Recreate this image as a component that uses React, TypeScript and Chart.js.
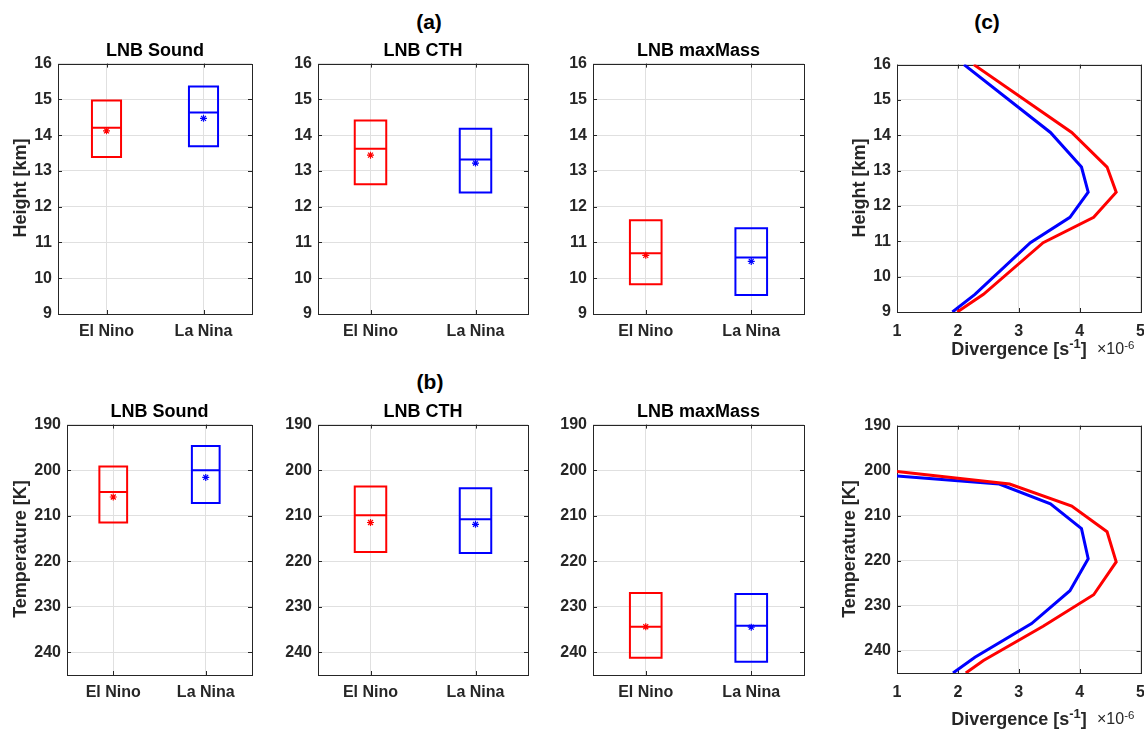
import React, { useEffect, useRef } from 'react';
import { Chart, registerables } from 'chart.js';

Chart.register(...registerables);

// ---------------- data ----------------
const categories = ['El Nino', 'La Nina'];
const categoryPositions = [1, 2];
const methodTitles = ['LNB Sound', 'LNB CTH', 'LNB maxMass'];
const heightTicks = [9, 10, 11, 12, 13, 14, 15, 16];
const temperatureTicks = [190, 200, 210, 220, 230, 240];
const divergenceTicks = [1, 2, 3, 4, 5];

// Height [km] box statistics, per method: [El Nino, La Nina]
const heightLower = [[13.39, 13.69], [12.63, 12.40], [9.83, 9.53]];
const heightMedian = [[14.21, 14.63], [13.62, 13.32], [10.70, 10.58]];
const heightUpper = [[14.97, 15.36], [14.41, 14.18], [11.62, 11.40]];
const heightMean = [[14.12, 14.47], [13.44, 13.22], [10.64, 10.47]];

// Temperature [K] box statistics, per method: [El Nino, La Nina]
const tempLower = [[199.2, 194.7], [203.6, 204.0], [227.0, 227.2]];
const tempMedian = [[204.8, 200.0], [209.9, 210.8], [234.4, 234.2]];
const tempUpper = [[211.5, 207.2], [218.0, 218.2], [241.2, 242.1]];
const tempMean = [[205.9, 201.6], [211.5, 211.9], [234.4, 234.5]];

// Divergence profiles (x 1e-6 s^-1)
const profileHeights = [16, 14.08, 13.1, 12.39, 11.68, 10.96, 9.5, 9];
const divElNinoByHeight = [2.26, 3.87, 4.45, 4.6, 4.23, 3.4, 2.42, 1.99];
const divLaNinaByHeight = [2.1, 3.52, 4.03, 4.14, 3.84, 3.19, 2.28, 1.91];

const profileTempsElNino = [200.2, 203.0, 207.9, 213.6, 220.3, 227.6, 234.6, 242.2, 245];
const divElNinoByTemp = [1.0, 2.85, 3.87, 4.45, 4.6, 4.23, 3.4, 2.42, 2.13];
const profileTempsLaNina = [201.2, 203.0, 207.4, 212.9, 219.6, 226.7, 234.0, 241.5, 245];
const divLaNinaByTemp = [1.0, 2.68, 3.52, 4.03, 4.14, 3.84, 3.21, 2.28, 1.92];

const seriesColors = ['#ff0000', '#0000ff'];

// ---------------- styling / layout ----------------
const FONT = "'Liberation Sans', Arial, Helvetica, sans-serif";
const AXIS_COLOR = '#262626';
const GRID_COLOR = '#e0e0e0';
const BOX_HALF = 0.15;
const PAD_L = 50, PAD_T = 14, PAD_R = 14, PAD_B = 36;

type Box = { l: number; t: number; r: number; b: number };

const topBoxes: Box[] = [
  { l: 58, t: 62, r: 252, b: 314 },
  { l: 318, t: 62, r: 528, b: 314 },
  { l: 593, t: 62, r: 804, b: 314 },
];
const topProfileBox: Box = { l: 897, t: 63, r: 1141, b: 312 };
const bottomBoxes: Box[] = [
  { l: 67, t: 423, r: 252, b: 675 },
  { l: 318, t: 423, r: 528, b: 675 },
  { l: 593, t: 423, r: 804, b: 675 },
];
const bottomProfileBox: Box = { l: 897, t: 424, r: 1141, b: 673 };

const matlabAxes = {
  id: 'matlabAxes',
  beforeDatasetsDraw(chart: any) {
    const { ctx, chartArea, scales } = chart;
    const { left, top, right, bottom } = chartArea;
    const tl = 4;
    ctx.save();
    ctx.strokeStyle = AXIS_COLOR;
    ctx.lineWidth = 1;
    ctx.beginPath();
    scales.x.ticks.forEach((t: any) => {
      const px = Math.round(scales.x.getPixelForValue(t.value)) + 0.5;
      ctx.moveTo(px, bottom);
      ctx.lineTo(px, bottom - tl);
      ctx.moveTo(px, top);
      ctx.lineTo(px, top + tl);
    });
    scales.y.ticks.forEach((t: any) => {
      const py = Math.round(scales.y.getPixelForValue(t.value)) + 0.5;
      ctx.moveTo(left, py);
      ctx.lineTo(left + tl, py);
      ctx.moveTo(right, py);
      ctx.lineTo(right - tl, py);
    });
    ctx.stroke();
    ctx.strokeRect(Math.round(left) + 0.5, Math.round(top) + 0.5, Math.round(right - left), Math.round(bottom - top));
    ctx.restore();
  },
};

function makeOptions(
  xMin: number, xMax: number, xTicks: number[], xLabel: (v: number) => string,
  yMin: number, yMax: number, yTicks: number[], reverse: boolean, xPad: number
) {
  const tickFont = { family: FONT, size: 16, weight: 'bold' as const };
  return {
    responsive: false,
    animation: false,
    layout: { padding: { top: PAD_T, right: PAD_R, left: 0, bottom: 0 } },
    plugins: { legend: { display: false }, tooltip: { enabled: false }, title: { display: false } },
    scales: {
      x: {
        type: 'linear',
        min: xMin,
        max: xMax,
        afterBuildTicks: (s: any) => { s.ticks = xTicks.map((v) => ({ value: v })); },
        afterFit: (s: any) => { s.height = PAD_B; },
        ticks: { callback: (v: any) => xLabel(Number(v)), font: tickFont, color: AXIS_COLOR, padding: xPad, autoSkip: false, maxRotation: 0 },
        grid: { color: GRID_COLOR, drawTicks: false, lineWidth: 1 },
        border: { display: false },
      },
      y: {
        type: 'linear',
        min: yMin,
        max: yMax,
        reverse,
        afterBuildTicks: (s: any) => { s.ticks = yTicks.map((v) => ({ value: v })); },
        afterFit: (s: any) => { s.width = PAD_L; },
        ticks: { callback: (v: any) => String(v), font: tickFont, color: AXIS_COLOR, padding: 6, autoSkip: false },
        grid: { color: GRID_COLOR, drawTicks: false, lineWidth: 1 },
        border: { display: false },
      },
    },
  };
}

function boxDatasets(lower: number[], median: number[], upper: number[], mean: number[]) {
  const ds: any[] = [];
  categoryPositions.forEach((c, i) => {
    const color = seriesColors[i];
    const a = c - BOX_HALF;
    const b = c + BOX_HALF;
    ds.push({
      data: [
        { x: a, y: lower[i] }, { x: b, y: lower[i] }, { x: b, y: upper[i] },
        { x: a, y: upper[i] }, { x: a, y: lower[i] },
      ],
      borderColor: color, borderWidth: 2, pointRadius: 0, tension: 0, fill: false,
      borderCapStyle: 'square', borderJoinStyle: 'miter',
    });
    ds.push({
      data: [{ x: a, y: median[i] }, { x: b, y: median[i] }],
      borderColor: color, borderWidth: 2, pointRadius: 0, tension: 0, fill: false,
    });
    ds.push({
      data: [{ x: c, y: mean[i] }],
      showLine: false, pointStyle: 'star', pointRadius: 3.5, pointBorderWidth: 1.2,
      borderColor: color, backgroundColor: color,
    });
  });
  return ds;
}

function boxConfig(idx: number, isTemp: boolean) {
  const lower = isTemp ? tempLower[idx] : heightLower[idx];
  const median = isTemp ? tempMedian[idx] : heightMedian[idx];
  const upper = isTemp ? tempUpper[idx] : heightUpper[idx];
  const mean = isTemp ? tempMean[idx] : heightMean[idx];
  const yTicks = isTemp ? temperatureTicks : heightTicks;
  return {
    type: 'line',
    data: { datasets: boxDatasets(lower, median, upper, mean) },
    options: makeOptions(
      0.5, 2.5, categoryPositions, (v) => categories[categoryPositions.indexOf(v)] ?? '',
      isTemp ? 190 : 9, isTemp ? 245 : 16, yTicks, isTemp, 8
    ),
    plugins: [matlabAxes],
  };
}

function profileConfig(isTemp: boolean) {
  const red = isTemp
    ? divElNinoByTemp.map((x, i) => ({ x, y: profileTempsElNino[i] }))
    : divElNinoByHeight.map((x, i) => ({ x, y: profileHeights[i] }));
  const blue = isTemp
    ? divLaNinaByTemp.map((x, i) => ({ x, y: profileTempsLaNina[i] }))
    : divLaNinaByHeight.map((x, i) => ({ x, y: profileHeights[i] }));
  const lineStyle = { borderWidth: 3, pointRadius: 0, tension: 0, fill: false, clip: 0, borderJoinStyle: 'miter' };
  return {
    type: 'line',
    data: {
      datasets: [
        { data: red, borderColor: seriesColors[0], ...lineStyle },
        { data: blue, borderColor: seriesColors[1], ...lineStyle },
      ],
    },
    options: makeOptions(
      1, 5, divergenceTicks, (v) => String(v),
      isTemp ? 190 : 9, isTemp ? 245 : 16, isTemp ? temperatureTicks : heightTicks, isTemp, 10
    ),
    plugins: [matlabAxes],
  };
}

function Panel({ box, config }: { box: Box; config: () => any }) {
  const ref = useRef<HTMLCanvasElement>(null);
  useEffect(() => {
    const chart = new Chart(ref.current as HTMLCanvasElement, config());
    return () => chart.destroy();
  }, []);
  const w = box.r - box.l + PAD_L + PAD_R;
  const h = box.b - box.t + PAD_T + PAD_B;
  return (
    <canvas
      ref={ref}
      width={w}
      height={h}
      style={{ position: 'absolute', left: box.l - PAD_L, top: box.t - PAD_T, width: w, height: h }}
    />
  );
}

function Text({ cx, top, size, children, color = '#000', weight = 'bold' }: any) {
  return (
    <div
      style={{
        position: 'absolute', left: cx, top, transform: 'translateX(-50%)', fontFamily: FONT,
        fontSize: size, fontWeight: weight, lineHeight: 1, whiteSpace: 'nowrap', color,
      }}
    >
      {children}
    </div>
  );
}

function VText({ cx, cy, size, children }: any) {
  return (
    <div
      style={{
        position: 'absolute', left: cx, top: cy, transform: 'translate(-50%, -50%) rotate(-90deg)',
        fontFamily: FONT, fontSize: size, fontWeight: 'bold', lineHeight: 1, whiteSpace: 'nowrap', color: AXIS_COLOR,
      }}
    >
      {children}
    </div>
  );
}

const supStyle: React.CSSProperties = { fontSize: '0.72em', position: 'relative', top: '-0.5em', verticalAlign: 'baseline' };

function DivTitle({ box, baseline }: { box: Box; baseline: number }) {
  const cx = (box.l + box.r) / 2;
  return (
    <>
      <Text cx={cx} top={baseline - 0.8465 * 18} size={18} color={AXIS_COLOR}>
        Divergence [s<span style={supStyle}>-1</span>]
      </Text>
      <div
        style={{
          position: 'absolute', left: 1097, top: baseline - 0.8465 * 16, fontFamily: FONT, fontSize: 16,
          lineHeight: 1, whiteSpace: 'nowrap', color: AXIS_COLOR,
        }}
      >
        ×10<span style={supStyle}>-6</span>
      </div>
    </>
  );
}

export default function App() {
  const cxOf = (b: Box) => (b.l + b.r) / 2;
  const cyOf = (b: Box) => (b.t + b.b) / 2;
  return (
    <div
      style={{
        position: 'fixed', left: 0, top: 0, width: 1144, height: 730, overflow: 'hidden', background: '#fff',
      }}
    >
      {topBoxes.map((b, i) => (
        <Panel key={'t' + i} box={b} config={() => boxConfig(i, false)} />
      ))}
      <Panel box={topProfileBox} config={() => profileConfig(false)} />
      {bottomBoxes.map((b, i) => (
        <Panel key={'b' + i} box={b} config={() => boxConfig(i, true)} />
      ))}
      <Panel box={bottomProfileBox} config={() => profileConfig(true)} />

      {/* group labels */}
      <Text cx={429} top={10.5} size={21}>(a)</Text>
      <Text cx={430} top={370.5} size={21}>(b)</Text>
      <Text cx={987} top={10.5} size={21}>(c)</Text>

      {/* panel titles */}
      {topBoxes.map((b, i) => (
        <Text key={'tt' + i} cx={cxOf(b)} top={40.8} size={18}>{methodTitles[i]}</Text>
      ))}
      {bottomBoxes.map((b, i) => (
        <Text key={'bt' + i} cx={cxOf(b)} top={401.5} size={18}>{methodTitles[i]}</Text>
      ))}

      {/* y axis titles */}
      <VText cx={20} cy={cyOf(topBoxes[0])} size={18}>Height [km]</VText>
      <VText cx={859} cy={cyOf(topProfileBox)} size={18}>Height [km]</VText>
      <VText cx={20} cy={cyOf(bottomBoxes[0])} size={18}>Temperature [K]</VText>
      <VText cx={849} cy={cyOf(bottomProfileBox)} size={18}>Temperature [K]</VText>

      {/* x axis titles of profiles */}
      <DivTitle box={topProfileBox} baseline={355} />
      <DivTitle box={bottomProfileBox} baseline={725} />
    </div>
  );
}
